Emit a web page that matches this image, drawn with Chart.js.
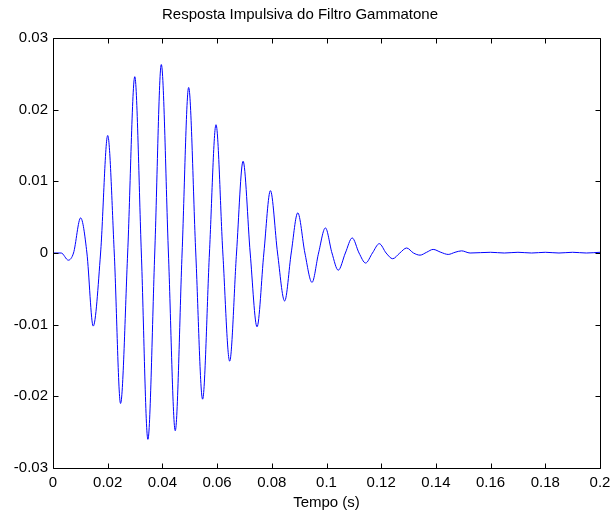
<!DOCTYPE html>
<html>
<head>
<meta charset="utf-8">
<script src="https://cdn.jsdelivr.net/npm/chart.js@4/dist/chart.umd.min.js"></script>
<style>
  body { margin: 0; background: #fff; }
  canvas { display: block; }
</style>
</head>
<body>
<canvas id="gammaChart" width="611" height="515"></canvas>
<script>
// tempo (s) e amplitude: extremos e cruzamentos por zero
var tempo = [
    0, 0.003, 0.0056, 0.0075, 0.0101, 0.0124, 0.0147, 0.0174, 0.0200, 0.0224,
    0.0247, 0.0273, 0.0299, 0.0323, 0.0347, 0.0372, 0.0396, 0.0422, 0.0447, 0.0472,
    0.0496, 0.0522, 0.0547, 0.0572, 0.0596, 0.0621, 0.0646, 0.0671, 0.0695, 0.0721,
    0.0746, 0.0771, 0.0795, 0.0821, 0.0847, 0.0871, 0.0895, 0.0921, 0.0947, 0.0971,
    0.0996, 0.1020, 0.1043, 0.1069, 0.1094, 0.1119, 0.1143, 0.1168, 0.1193, 0.1218,
    0.1242, 0.1268, 0.1293, 0.1318, 0.1342, 0.1366, 0.1390, 0.1418, 0.1445, 0.1470,
    0.1494, 0.1525, 0.1600, 0.1650, 0.1700, 0.1750, 0.1800, 0.1850, 0.1900, 0.1950,
    0.2000
];
var amplitude = [
    0, 0, -0.0010, 0, 0.0049, 0, -0.0102, 0, 0.0164, 0,
    -0.0210, 0, 0.0246, 0, -0.0260, 0, 0.0263, 0, -0.0248, 0,
    0.0231, 0, -0.0204, 0, 0.0179, 0, -0.0151, 0, 0.0128, 0,
    -0.0103, 0, 0.0087, 0, -0.0067, 0, 0.0056, 0, -0.0041, 0,
    0.0035, 0, -0.0024, 0, 0.0021, 0, -0.0014, 0, 0.0013, 0,
    -0.0008, 0, 0.0007, 0, -0.0003, 0.0001, 0.0005, 0.0001, -0.0002, 0.0001,
    0.0003, 0, 0.0001, 0, 0.0001, 0, 0.0001, 0, 0.0001, 0,
    0.0001
];
var xTicks = { min: 0, max: 0.2, step: 0.02 };
var yTicks = { min: -0.03, max: 0.03, step: 0.01 };

var pontos = tempo.map(function (t, i) { return { x: t, y: amplitude[i] }; });

function fmt(v) { return String(+Number(v).toFixed(4)); }

// moldura estilo MATLAB com marcas para dentro nos quatro lados
var moldura = {
    id: 'moldura',
    afterDraw: function (chart) {
        var c = chart.ctx, a = chart.chartArea;
        var xs = chart.scales.x, ys = chart.scales.y;
        var L = Math.round(a.left) + 0.5, R = Math.round(a.right) + 0.5;
        var T = Math.round(a.top) + 0.5, B = Math.round(a.bottom) + 0.5;
        c.save();
        c.strokeStyle = '#000';
        c.lineWidth = 1;
        c.beginPath();
        c.rect(L, T, R - L, B - T);
        xs.ticks.forEach(function (tk) {
            var px = Math.round(xs.getPixelForValue(tk.value)) + 0.5;
            c.moveTo(px, B); c.lineTo(px, B - 5);
            c.moveTo(px, T); c.lineTo(px, T + 5);
        });
        ys.ticks.forEach(function (tk) {
            var py = Math.round(ys.getPixelForValue(tk.value)) + 0.5;
            c.moveTo(L, py); c.lineTo(L + 5, py);
            c.moveTo(R, py); c.lineTo(R - 5, py);
        });
        c.stroke();
        c.restore();
    }
};

var fonte = { family: '"Liberation Sans", Arial, sans-serif', size: 15, weight: 'normal' };

var ctx = document.getElementById('gammaChart').getContext('2d');
var gammaChart = new Chart(ctx, {
    type: 'line',
    data: {
        datasets: [{
            data: pontos,
            borderColor: '#0000ff',
            borderWidth: 1,
            pointRadius: 0,
            fill: false,
            cubicInterpolationMode: 'monotone'
        }]
    },
    options: {
        responsive: false,
        animation: false,
        layout: { padding: { left: 0, right: 11, top: 0, bottom: 0 } },
        plugins: {
            legend: { display: false },
            tooltip: { enabled: false },
            title: {
                display: true,
                text: 'Resposta Impulsiva do Filtro Gammatone',
                color: '#000',
                font: fonte,
                padding: { top: 6, bottom: 14 }
            }
        },
        scales: {
            x: {
                type: 'linear',
                min: xTicks.min,
                max: xTicks.max,
                grid: { display: false, drawTicks: false },
                border: { display: false },
                ticks: {
                    stepSize: xTicks.step,
                    autoSkip: false,
                    maxRotation: 0,
                    padding: 6,
                    color: '#000',
                    font: fonte,
                    callback: fmt
                },
                title: {
                    display: true,
                    text: 'Tempo (s)',
                    color: '#000',
                    font: fonte,
                    padding: { top: 0, bottom: 3 }
                },
                afterFit: function (s) {
                    s.height = 47;
                    s.paddingLeft = 0;
                    s.paddingRight = 0;
                }
            },
            y: {
                min: yTicks.min,
                max: yTicks.max,
                grid: { display: false, drawTicks: false },
                border: { display: false },
                ticks: {
                    stepSize: yTicks.step,
                    padding: 5,
                    color: '#000',
                    font: fonte,
                    callback: fmt
                },
                afterFit: function (s) {
                    s.width = 53;
                    s.paddingTop = 0;
                    s.paddingBottom = 0;
                }
            }
        }
    },
    plugins: [moldura]
});
</script>
</body>
</html>
